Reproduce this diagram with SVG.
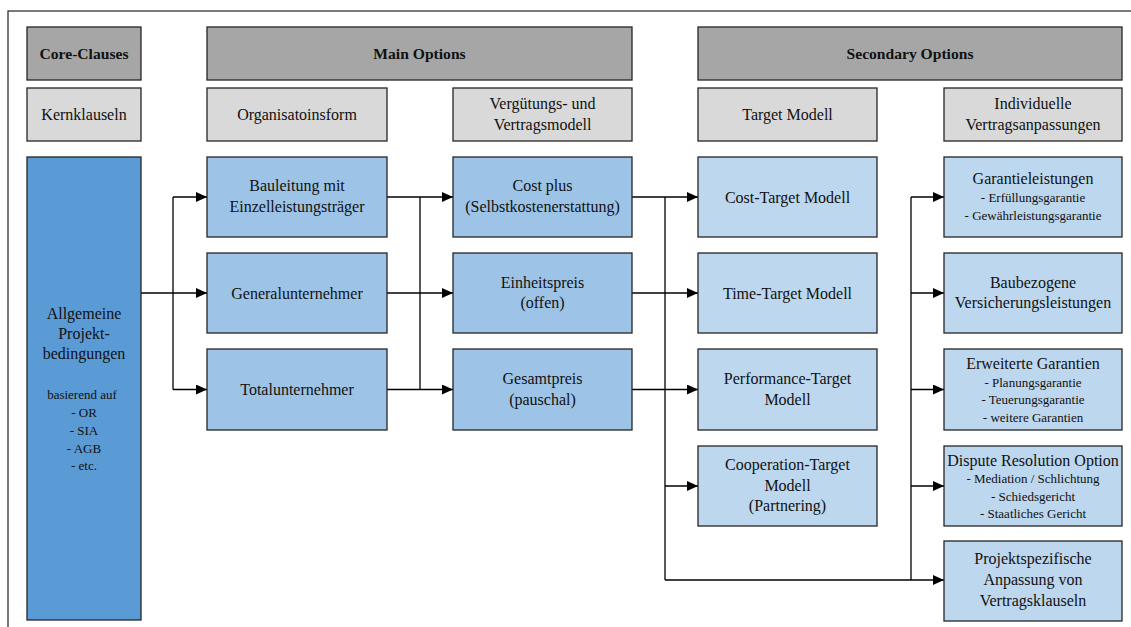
<svg xmlns="http://www.w3.org/2000/svg" width="1131" height="627" viewBox="0 0 1131 627">
<style>
.box{stroke:#262626;stroke-width:1.3}
.hd{fill:#a6a6a6}
.sub{fill:#d9d9d9}
.core{fill:#5b9bd5}
.mid{fill:#9dc3e6}
.lt{fill:#bdd7ee}
text{font-family:"Liberation Serif","Times New Roman",serif;fill:#111;text-anchor:middle}
.t{font-size:16px}
.b{font-size:15.6px;font-weight:bold}
.s{font-size:13px}
.ln{fill:none;stroke:#000;stroke-width:1.3}
</style>
<defs>
<marker id="ar" markerUnits="userSpaceOnUse" markerWidth="12" markerHeight="10" refX="11" refY="5" orient="auto">
<path d="M0,0 L11,5 L0,10 Z" fill="#000"/>
</marker>
</defs>
<rect x="0" y="0" width="1131" height="627" fill="#fff"/>
<rect x="8" y="11" width="1140" height="640" fill="none" stroke="#222" stroke-width="1.2"/>

<g id="connectors">
<path class="ln" d="M141,293 H207" marker-end="url(#ar)"/>
<path class="ln" d="M173,197 V389.5"/>
<path class="ln" d="M173,197 H207" marker-end="url(#ar)"/>
<path class="ln" d="M173,389.5 H207" marker-end="url(#ar)"/>
<path class="ln" d="M387,197 H453" marker-end="url(#ar)"/>
<path class="ln" d="M387,293 H453" marker-end="url(#ar)"/>
<path class="ln" d="M387,389.5 H453" marker-end="url(#ar)"/>
<path class="ln" d="M420,197 V389.5"/>
<path class="ln" d="M632,197 H698" marker-end="url(#ar)"/>
<path class="ln" d="M632,293 H698" marker-end="url(#ar)"/>
<path class="ln" d="M632,389.5 H698" marker-end="url(#ar)"/>
<path class="ln" d="M665,197 V580"/>
<path class="ln" d="M665,486 H698" marker-end="url(#ar)"/>
<path class="ln" d="M665,580 H944" marker-end="url(#ar)"/>
<path class="ln" d="M911,197 V580"/>
<path class="ln" d="M911,197 H944" marker-end="url(#ar)"/>
<path class="ln" d="M911,293 H944" marker-end="url(#ar)"/>
<path class="ln" d="M911,389.5 H944" marker-end="url(#ar)"/>
<path class="ln" d="M911,486 H944" marker-end="url(#ar)"/>
</g>

<g id="core-clauses"><rect class="box hd" x="27" y="27" width="114" height="53"/><text class="b" x="84" y="58.5">Core-Clauses</text></g>
<g id="main-options"><rect class="box hd" x="207" y="27" width="425" height="53"/><text class="b" x="419.5" y="58.5">Main Options</text></g>
<g id="secondary-options"><rect class="box hd" x="698" y="27" width="424" height="53"/><text class="b" x="910" y="58.5">Secondary Options</text></g>

<g id="kernklauseln"><rect class="box sub" x="27" y="88" width="114" height="53"/><text class="t" x="84" y="119.5">Kernklauseln</text></g>
<g id="organisationsform"><rect class="box sub" x="207" y="88" width="180" height="53"/><text class="t" x="297" y="119.5">Organisatoinsform</text></g>
<g id="verguetung"><rect class="box sub" x="453" y="88" width="179" height="53"/><text class="t" x="542.5" y="109">Vergütungs- und</text><text class="t" x="542.5" y="129.5">Vertragsmodell</text></g>
<g id="target-modell"><rect class="box sub" x="698" y="88" width="179" height="53"/><text class="t" x="787.5" y="119.5">Target Modell</text></g>
<g id="individuelle"><rect class="box sub" x="944" y="88" width="178" height="53"/><text class="t" x="1033" y="109">Individuelle</text><text class="t" x="1033" y="129.5">Vertragsanpassungen</text></g>

<g id="allgemeine"><rect class="box core" x="27" y="157" width="114" height="463"/>
<text class="t" x="84" y="319">Allgemeine</text><text class="t" x="84" y="339">Projekt-</text><text class="t" x="84" y="359">bedingungen</text>
<text class="s" x="82" y="399">basierend auf</text><text class="s" x="84" y="417">- OR</text><text class="s" x="84" y="435">- SIA</text><text class="s" x="84" y="452.5">- AGB</text><text class="s" x="84" y="470">- etc.</text></g>

<g id="bauleitung"><rect class="box mid" x="207" y="157" width="180" height="80"/><text class="t" x="297" y="191">Bauleitung mit</text><text class="t" x="297" y="211.5">Einzelleistungsträger</text></g>
<g id="generalunternehmer"><rect class="box mid" x="207" y="253" width="180" height="80"/><text class="t" x="297" y="298.5">Generalunternehmer</text></g>
<g id="totalunternehmer"><rect class="box mid" x="207" y="349" width="180" height="81"/><text class="t" x="297" y="394.5">Totalunternehmer</text></g>

<g id="cost-plus"><rect class="box mid" x="453" y="157" width="179" height="80"/><text class="t" x="542.5" y="191">Cost plus</text><text class="t" x="542.5" y="211.5">(Selbstkostenerstattung)</text></g>
<g id="einheitspreis"><rect class="box mid" x="453" y="253" width="179" height="80"/><text class="t" x="542.5" y="287.5">Einheitspreis</text><text class="t" x="542.5" y="308">(offen)</text></g>
<g id="gesamtpreis"><rect class="box mid" x="453" y="349" width="179" height="81"/><text class="t" x="542.5" y="384">Gesamtpreis</text><text class="t" x="542.5" y="404.5">(pauschal)</text></g>

<g id="cost-target"><rect class="box lt" x="698" y="157" width="179" height="80"/><text class="t" x="787.5" y="202.5">Cost-Target Modell</text></g>
<g id="time-target"><rect class="box lt" x="698" y="253" width="179" height="80"/><text class="t" x="787.5" y="298.5">Time-Target Modell</text></g>
<g id="performance-target"><rect class="box lt" x="698" y="349" width="179" height="81"/><text class="t" x="787.5" y="384">Performance-Target</text><text class="t" x="787.5" y="404.5">Modell</text></g>
<g id="cooperation-target"><rect class="box lt" x="698" y="446" width="179" height="80"/><text class="t" x="787.5" y="470">Cooperation-Target</text><text class="t" x="787.5" y="490.5">Modell</text><text class="t" x="787.5" y="511">(Partnering)</text></g>

<g id="garantieleistungen"><rect class="box lt" x="944" y="157" width="178" height="80"/><text class="t" x="1033" y="184">Garantieleistungen</text><text class="s" x="1033" y="202">- Erfüllungsgarantie</text><text class="s" x="1033" y="219.5">- Gewährleistungsgarantie</text></g>
<g id="baubezogene"><rect class="box lt" x="944" y="253" width="178" height="80"/><text class="t" x="1033" y="287.5">Baubezogene</text><text class="t" x="1033" y="308">Versicherungsleistungen</text></g>
<g id="erweiterte"><rect class="box lt" x="944" y="349" width="178" height="81"/><text class="t" x="1033" y="369">Erweiterte Garantien</text><text class="s" x="1033" y="386.5">- Planungsgarantie</text><text class="s" x="1033" y="404">- Teuerungsgarantie</text><text class="s" x="1033" y="421.5">- weitere Garantien</text></g>
<g id="dispute"><rect class="box lt" x="944" y="446" width="178" height="80"/><text class="t" x="1033" y="465.5">Dispute Resolution Option</text><text class="s" x="1033" y="483">- Mediation / Schlichtung</text><text class="s" x="1033" y="500.5">- Schiedsgericht</text><text class="s" x="1033" y="518">- Staatliches Gericht</text></g>
<g id="projektspezifisch"><rect class="box lt" x="944" y="541" width="178" height="80"/><text class="t" x="1033" y="564">Projektspezifische</text><text class="t" x="1033" y="585">Anpassung von</text><text class="t" x="1033" y="606">Vertragsklauseln</text></g>
</svg>
